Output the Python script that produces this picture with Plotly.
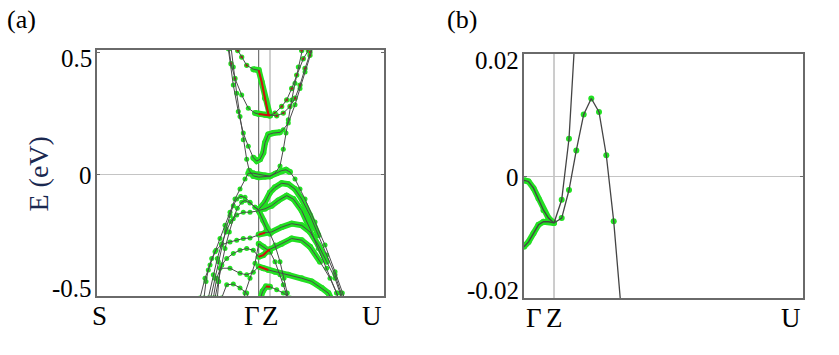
import plotly.graph_objects as go

# ---------------- data ----------------
# high-symmetry points (k-path coordinate) and labels
kpts_a = [0.0, 1.617, 1.73, 2.87]
klab_a = ["S", "Γ", "Z", "U"]
kpts_b = [0.0, 0.30, 2.79]
klab_b = ["Γ", "Z", "U"]
yt_a = [-0.5, 0, 0.5]
ytl_a = ["-0.5", "0", "0.5"]
yt_b = [-0.02, 0, 0.02]
ytl_b = ["-0.02", "0", "0.02"]

# projection code per k-point: 0 none, 1 weak green, 2 weak red, 3 strong green, 4 strong red
# ---- panel (a) bands ----
a1_k = [1.380, 1.407, 1.447, 1.497, 1.563, 1.617, 1.647, 1.680, 1.713, 1.730, 1.780, 1.847, 1.897, 1.947, 1.997, 2.063, 2.113, 2.147]
a1_E = [0.528, 0.508, 0.481, 0.447, 0.431, 0.427, 0.379, 0.312, 0.247, 0.241, 0.251, 0.278, 0.305, 0.352, 0.407, 0.474, 0.508, 0.535]
a1_w = [2, 2, 2, 2, 3, 4, 4, 4, 4, 4, 2, 2, 2, 2, 2, 2, 2, 2]

a2_k = [1.320, 1.340, 1.380, 1.447, 1.513, 1.580, 1.617, 1.680, 1.730, 1.797, 1.863, 1.930, 1.980, 2.030, 2.080, 2.130, 2.157]
a2_E = [0.515, 0.454, 0.393, 0.325, 0.271, 0.251, 0.247, 0.244, 0.241, 0.240, 0.251, 0.278, 0.312, 0.366, 0.434, 0.501, 0.528]
a2_w = [2, 2, 2, 1, 1, 3, 4, 4, 4, 2, 2, 2, 2, 2, 2, 2, 2]

a3_k = [1.313, 1.363, 1.413, 1.463, 1.513, 1.563, 1.597, 1.630, 1.663, 1.680, 1.713, 1.763, 1.830, 1.863, 1.913, 1.980, 2.030, 2.080, 2.130, 2.163]
a3_E = [0.515, 0.366, 0.257, 0.169, 0.115, 0.068, 0.054, 0.061, 0.088, 0.129, 0.163, 0.169, 0.172, 0.183, 0.210, 0.285, 0.352, 0.420, 0.488, 0.528]
a3_w = [1, 1, 1, 1, 1, 3, 3, 3, 3, 3, 3, 3, 3, 1, 1, 1, 1, 1, 2, 2]

a4_k = [1.340, 1.363, 1.397, 1.430, 1.463, 1.497, 1.523, 1.563, 1.617, 1.680, 1.730, 1.780, 1.830, 1.863, 1.890, 1.913, 1.947, 1.980, 2.013, 2.047, 2.063]
a4_E = [0.522, 0.440, 0.332, 0.237, 0.142, 0.061, 0.014, -0.007, -0.012, -0.009, -0.008, 0.004, 0.034, 0.102, 0.169, 0.224, 0.305, 0.373, 0.440, 0.508, 0.528]
a4_w = [1, 1, 1, 1, 1, 1, 3, 3, 3, 3, 3, 1, 1, 1, 1, 1, 1, 1, 1, 2, 2]

a5_k = [1.030, 1.080, 1.130, 1.180, 1.230, 1.280, 1.330, 1.380, 1.430, 1.480, 1.513, 1.563, 1.617, 1.680, 1.730, 1.797, 1.847, 1.890, 1.930, 1.980, 2.030, 2.080, 2.180, 2.280, 2.380, 2.453, 2.480]
a5_E = [-0.508, -0.427, -0.373, -0.318, -0.264, -0.210, -0.156, -0.102, -0.061, -0.020, 0.004, 0.004, -0.001, -0.005, -0.008, 0.004, 0.015, 0.018, 0.009, -0.020, -0.061, -0.102, -0.196, -0.291, -0.400, -0.488, -0.515]
a5_w = [1, 1, 1, 1, 1, 1, 1, 1, 1, 1, 3, 3, 3, 3, 3, 3, 3, 3, 3, 1, 1, 1, 1, 1, 1, 1, 1]

a6_k = [1.137, 1.180, 1.213, 1.247, 1.290, 1.330, 1.363, 1.397, 1.437, 1.480, 1.530, 1.580, 1.617, 1.680, 1.730, 1.780, 1.847, 1.913, 1.980, 2.047, 2.130, 2.213, 2.297, 2.380, 2.440, 2.463]
a6_E = [-0.508, -0.427, -0.359, -0.291, -0.224, -0.169, -0.129, -0.102, -0.091, -0.095, -0.115, -0.136, -0.145, -0.115, -0.075, -0.054, -0.037, -0.041, -0.061, -0.102, -0.169, -0.251, -0.332, -0.413, -0.488, -0.515]
a6_w = [1, 1, 1, 1, 1, 1, 1, 1, 1, 1, 1, 1, 3, 3, 3, 3, 3, 3, 3, 3, 3, 3, 1, 1, 1, 1]

a7_k = [1.180, 1.213, 1.247, 1.280, 1.323, 1.363, 1.403, 1.447, 1.480, 1.530, 1.580, 1.617, 1.680, 1.747, 1.813, 1.897, 1.963, 2.047, 2.130, 2.213, 2.297, 2.397, 2.423]
a7_E = [-0.508, -0.440, -0.373, -0.305, -0.237, -0.183, -0.140, -0.115, -0.108, -0.118, -0.136, -0.149, -0.142, -0.129, -0.108, -0.088, -0.102, -0.149, -0.224, -0.305, -0.386, -0.488, -0.515]
a7_w = [1, 1, 1, 1, 1, 1, 1, 1, 1, 1, 1, 3, 3, 3, 3, 3, 3, 3, 3, 1, 1, 1, 1]

a8_k = [1.113, 1.163, 1.203, 1.247, 1.290, 1.337, 1.397, 1.463, 1.530, 1.617, 1.663, 1.697, 1.730, 1.780, 1.830, 1.870, 1.903, 1.917]
a8_E = [-0.508, -0.413, -0.346, -0.285, -0.237, -0.194, -0.167, -0.156, -0.156, -0.150, -0.190, -0.224, -0.244, -0.291, -0.359, -0.427, -0.488, -0.515]
a8_w = [1, 1, 1, 1, 1, 1, 1, 1, 1, 3, 3, 3, 3, 1, 1, 1, 1, 1]

a9_k = [1.070, 1.090, 1.113, 1.147, 1.190, 1.247, 1.330, 1.397, 1.463, 1.530, 1.617, 1.680, 1.747, 1.847, 1.947, 2.047, 2.130, 2.213, 2.297, 2.380, 2.430, 2.447]
a9_E = [-0.508, -0.440, -0.393, -0.346, -0.312, -0.289, -0.278, -0.271, -0.264, -0.262, -0.248, -0.240, -0.237, -0.217, -0.203, -0.210, -0.237, -0.291, -0.359, -0.427, -0.488, -0.515]
a9_w = [1, 1, 1, 1, 1, 1, 1, 1, 1, 1, 4, 4, 3, 3, 3, 3, 3, 3, 3, 1, 1, 1]

a10_k = [1.163, 1.197, 1.247, 1.297, 1.363, 1.430, 1.497, 1.563, 1.617, 1.663, 1.697, 1.730, 1.847, 1.947, 2.047, 2.130, 2.230, 2.330, 2.397, 2.413]
a10_E = [-0.508, -0.427, -0.373, -0.346, -0.325, -0.312, -0.305, -0.312, -0.339, -0.332, -0.318, -0.308, -0.285, -0.264, -0.271, -0.298, -0.359, -0.427, -0.488, -0.515]
a10_w = [1, 1, 1, 1, 1, 1, 1, 1, 4, 4, 4, 4, 3, 3, 3, 3, 3, 1, 1, 1]

a11_k = [1.203, 1.217, 1.230, 1.330, 1.430, 1.497, 1.563, 1.617, 1.663, 1.713, 1.780, 1.913, 2.047, 2.147, 2.247, 2.313, 2.347]
a11_E = [-0.508, -0.440, -0.386, -0.386, -0.407, -0.413, -0.402, -0.379, -0.386, -0.393, -0.400, -0.413, -0.427, -0.440, -0.467, -0.488, -0.515]
a11_w = [1, 1, 1, 1, 1, 1, 1, 4, 4, 4, 3, 3, 3, 3, 3, 3, 3]

a12_k = [1.247, 1.297, 1.363, 1.430, 1.497, 1.523]
a12_E = [-0.508, -0.454, -0.451, -0.467, -0.488, -0.515]
a12_w = [1, 1, 1, 1, 1, 1]

a13_k = [1.463, 1.480, 1.530, 1.580, 1.617, 1.663, 1.730, 1.780, 1.830, 1.863, 1.890, 1.903]
a13_E = [-0.515, -0.488, -0.427, -0.366, -0.285, -0.298, -0.318, -0.359, -0.413, -0.454, -0.488, -0.515]
a13_w = [1, 1, 1, 1, 3, 3, 3, 1, 1, 1, 1, 1]

a14_k = [1.630, 1.657, 1.690, 1.730, 1.797, 1.863, 1.930]
a14_E = [-0.515, -0.481, -0.461, -0.462, -0.474, -0.488, -0.508]
a14_w = [3, 3, 4, 4, 1, 1, 1]

# ---- panel (b) bands (zoom near Fermi level) ----
b1_k = [0.0, 0.045, 0.095, 0.145, 0.195, 0.245, 0.30]
b1_E = [-0.0007, -0.0009, -0.0020, -0.0037, -0.0056, -0.0069, -0.0077]
b1_w = [3, 3, 3, 3, 3, 3, 3]

b2_k = [0.0, 0.045, 0.095, 0.145, 0.195, 0.245, 0.30]
b2_E = [-0.0116, -0.0108, -0.0094, -0.0080, -0.0075, -0.0075, -0.0077]
b2_w = [3, 3, 3, 3, 3, 3, 3]

b3_k = [0.30, 0.377, 0.45, 0.50]
b3_E = [-0.0077, -0.0039, 0.0061, 0.0201]
b3_w = [0, 1, 1, 0]

b4_k = [0.30, 0.377, 0.45, 0.523, 0.597, 0.673, 0.75, 0.823, 0.897, 0.963]
b4_E = [-0.0077, -0.0069, -0.0023, 0.0042, 0.0101, 0.0127, 0.0105, 0.0034, -0.0074, -0.0202]
b4_w = [0, 1, 1, 1, 1, 1, 1, 1, 1, 0]

bands_a = [(a1_k, a1_E, a1_w), (a2_k, a2_E, a2_w), (a3_k, a3_E, a3_w), (a4_k, a4_E, a4_w),
           (a5_k, a5_E, a5_w), (a6_k, a6_E, a6_w), (a7_k, a7_E, a7_w), (a8_k, a8_E, a8_w),
           (a9_k, a9_E, a9_w), (a10_k, a10_E, a10_w), (a11_k, a11_E, a11_w),
           (a12_k, a12_E, a12_w), (a13_k, a13_E, a13_w), (a14_k, a14_E, a14_w)]
bands_b = [(b1_k, b1_E, b1_w), (b2_k, b2_E, b2_w), (b3_k, b3_E, b3_w), (b4_k, b4_E, b4_w)]

# ---------------- style ----------------
GREEN = "#22e022"
RED = "#d01010"
FONT = '"Liberation Serif", "Times New Roman", "DejaVu Serif", serif'
W, H = 839, 355

fig = go.Figure()


def add_panel(bands, xa, ya, tube_w, dot_s, line_c, line_w):
    # strong-projection tubes
    for k, E, w in bands:
        ty = [e if c >= 3 else None for e, c in zip(E, w)]
        fig.add_trace(go.Scatter(x=k, y=ty, mode="lines+markers",
                                 line=dict(color=GREEN, width=tube_w),
                                 marker=dict(color=GREEN, size=tube_w),
                                 xaxis=xa, yaxis=ya, hoverinfo="skip"))
    # weak-projection dots
    for k, E, w in bands:
        gx = [kk for kk, c in zip(k, w) if c == 1]
        gy = [e for e, c in zip(E, w) if c == 1]
        rx = [kk for kk, c in zip(k, w) if c == 2]
        ry = [e for e, c in zip(E, w) if c == 2]
        if gx:
            fig.add_trace(go.Scatter(x=gx, y=gy, mode="markers",
                                     marker=dict(color=GREEN, size=dot_s),
                                     xaxis=xa, yaxis=ya, hoverinfo="skip"))
        if rx:
            fig.add_trace(go.Scatter(x=rx, y=ry, mode="markers",
                                     marker=dict(color=RED, size=dot_s - 1,
                                                 line=dict(color=GREEN, width=1.3)),
                                     xaxis=xa, yaxis=ya, hoverinfo="skip"))
    # band lines
    for k, E, w in bands:
        fig.add_trace(go.Scatter(x=k, y=E, mode="lines",
                                 line=dict(color=line_c, width=line_w),
                                 xaxis=xa, yaxis=ya, hoverinfo="skip"))
    # strong red segments
    for k, E, w in bands:
        if 4 in w:
            ry = [e if c == 4 else None for e, c in zip(E, w)]
            fig.add_trace(go.Scatter(x=k, y=ry, mode="lines",
                                     line=dict(color=RED, width=2),
                                     xaxis=xa, yaxis=ya, hoverinfo="skip"))


add_panel(bands_a, "x", "y", 6, 5, "#4a4a4a", 1)
add_panel(bands_b, "x2", "y2", 6, 6, "#444444", 1.3)

# frames / axes
dom_xa = [97 / W, 384 / W]
dom_ya = [1 - 296 / H, 1 - 50 / H]
dom_xb = [524 / W, 803 / W]
dom_yb = [1 - 298 / H, 1 - 54 / H]

frame = dict(showgrid=False, showline=True, linecolor="#6a6a6a", linewidth=1.5, mirror=True)
fig.update_layout(
    width=W, height=H, margin=dict(l=0, r=0, t=0, b=0),
    paper_bgcolor="white", plot_bgcolor="white", showlegend=False,
    font=dict(family=FONT, color="black"),
    xaxis=dict(domain=dom_xa, range=[kpts_a[0], kpts_a[-1]], zeroline=False,
               showticklabels=False, ticks="", **frame),
    yaxis=dict(domain=dom_ya, range=[-0.5, 0.51], zeroline=True, zerolinecolor="#c4c4c4",
               zerolinewidth=1, tickvals=yt_a, ticks="inside", ticklen=3, tickcolor="#6a6a6a",
               showticklabels=False, **dict(frame, mirror="ticks")),
    xaxis2=dict(domain=dom_xb, range=[kpts_b[0], kpts_b[-1]], zeroline=False,
                showticklabels=False, ticks="", anchor="y2", **frame),
    yaxis2=dict(domain=dom_yb, range=[yt_b[0], yt_b[-1]], zeroline=True, zerolinecolor="#c4c4c4",
                zerolinewidth=1, tickvals=yt_b, ticks="inside", ticklen=3, tickcolor="#6a6a6a",
                showticklabels=False, anchor="x2", **dict(frame, mirror="ticks")),
)

# high-symmetry vertical lines
for kv, col in [(kpts_a[1], "#555555"), (kpts_a[2], "#a0a0a0")]:
    fig.add_shape(type="line", xref="x", yref="y domain", x0=kv, x1=kv, y0=0, y1=1,
                  line=dict(color=col, width=1), layer="below")
fig.add_shape(type="line", xref="x2", yref="y2 domain", x0=kpts_b[1], x1=kpts_b[1], y0=0, y1=1,
              line=dict(color="#9a9a9a", width=1), layer="below")

# k-point labels
anch_a = ["center", "right", "center", "right"]
shx_a = [2, 3, 0, 0]
for kv, lab, an, sx in zip(kpts_a, klab_a, anch_a, shx_a):
    fig.add_annotation(x=kv, xref="x", y=1 - 316 / H, yref="paper", text=lab, showarrow=False,
                       xanchor=an, yanchor="middle", xshift=sx,
                       font=dict(family=FONT, size=27, color="black"))
anch_b = ["left", "center", "right"]
for kv, lab, an in zip(kpts_b, klab_b, anch_b):
    fig.add_annotation(x=kv, xref="x2", y=1 - 318 / H, yref="paper", text=lab, showarrow=False,
                       xanchor=an, yanchor="middle", font=dict(family=FONT, size=27, color="black"))

# energy tick labels
shifts = [8, -1, -6]
for yv, lab, s in zip(yt_a, ytl_a, shifts):
    fig.add_annotation(x=0, xref="x domain", y=yv, yref="y", text=lab, showarrow=False,
                       xanchor="right", yanchor="middle", xshift=-3, yshift=s,
                       font=dict(family=FONT, size=25, color="black"))
for yv, lab, s in zip(yt_b, ytl_b, shifts):
    fig.add_annotation(x=0, xref="x2 domain", y=yv, yref="y2", text=lab, showarrow=False,
                       xanchor="right", yanchor="middle", xshift=-3, yshift=s,
                       font=dict(family=FONT, size=25, color="black"))

# axis title and panel letters
fig.add_annotation(x=37.5 / W, y=1 - 174 / H, xref="paper", yref="paper", text="E (eV)",
                   textangle=-90, showarrow=False, xanchor="center", yanchor="middle",
                   font=dict(family=FONT, size=28, color="#1a2850"))
fig.add_annotation(x=5 / W, y=1 - 19 / H, xref="paper", yref="paper", text="(a)",
                   showarrow=False, xanchor="left", yanchor="middle",
                   font=dict(family=FONT, size=26, color="black"))
fig.add_annotation(x=445 / W, y=1 - 19 / H, xref="paper", yref="paper", text="(b)",
                   showarrow=False, xanchor="left", yanchor="middle",
                   font=dict(family=FONT, size=26, color="black"))

fig.write_html("out.html", config={"displayModeBar": False},
               post_script="document.body.style.margin='0';")
